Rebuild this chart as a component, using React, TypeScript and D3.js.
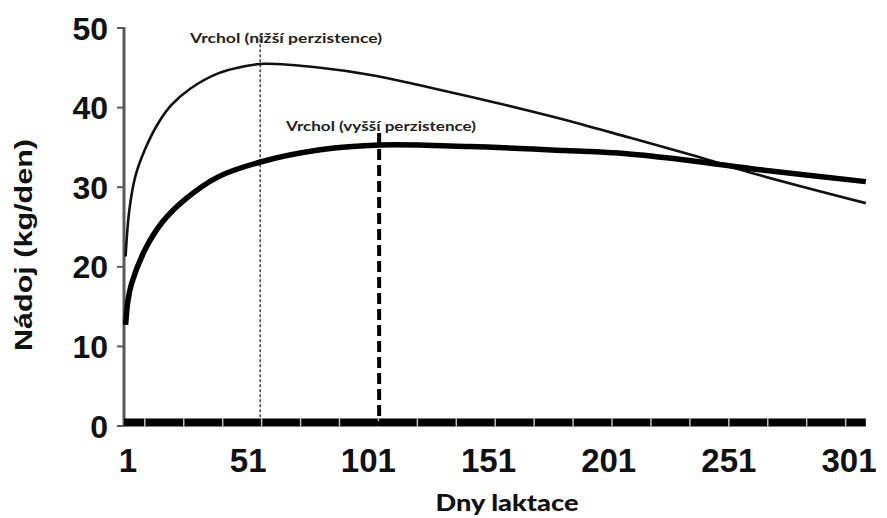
import React, { useRef, useEffect } from "react";
import * as d3 from "d3";

// lactation day (x) and milk yield kg/day (y)
const daysLow = [0, 1.5, 4, 8, 13.5, 19, 27, 38.5, 49.5, 58, 81, 102, 122.5, 143, 164, 185, 210, 236, 264, 308];
const milkLow = [21.3, 27.0, 31.3, 34.7, 38.0, 40.3, 42.4, 44.3, 45.2, 45.5, 45.0, 44.1, 42.8, 41.4, 39.9, 38.3, 36.2, 34.0, 31.5, 28.0];

const daysHigh = [0, 1, 2.5, 8, 15, 24.5, 38.5, 56.5, 81, 106, 143, 183, 208.5, 236, 264, 308];
const milkHigh = [12.7, 15.8, 17.9, 22.1, 25.5, 28.4, 31.3, 33.2, 34.7, 35.3, 35.1, 34.6, 34.2, 33.3, 32.2, 30.7];

const xTicks = [1, 51, 101, 151, 201, 251, 301];
const yTicks = [0, 10, 20, 30, 40, 50];

const peakLow = { day: 56, top: 49.2, label: "Vrchol (nižší perzistence)" };
const peakHigh = { day: 105.5, top: 36.8, label: "Vrchol (vyšší perzistence)" };

const W = 887;
const H = 518;

const App = () => {
  const svgRef = useRef<SVGSVGElement>(null);

  useEffect(() => {
    const svg = d3.select(svgRef.current);
    svg.selectAll("*").remove();

    const x = d3.scaleLinear().domain([1, 301]).range([128, 849]);
    const y = d3.scaleLinear().domain([0, 50]).range([426, 28]);
    const axisX = 124;
    const endX = x(308);

    // y axis
    svg.append("line")
      .attr("x1", axisX).attr("x2", axisX)
      .attr("y1", y(50) - 1).attr("y2", y(0))
      .attr("stroke", "#5a5a5a").attr("stroke-width", 3);
    svg.selectAll(".ytick")
      .data(yTicks)
      .join("line")
      .attr("class", "ytick")
      .attr("x1", axisX - 7).attr("x2", axisX)
      .attr("y1", d => y(d)).attr("y2", d => y(d))
      .attr("stroke", "#5a5a5a").attr("stroke-width", 2);
    svg.selectAll(".ylab")
      .data(yTicks)
      .join("text")
      .attr("class", "ylab")
      .attr("x", 108)
      .attr("y", d => y(d))
      .attr("dy", "0.36em")
      .attr("text-anchor", "end")
      .attr("font-family", "Liberation Sans, Arial, sans-serif")
      .attr("font-weight", "bold")
      .attr("font-size", 32)
      .attr("fill", "#111")
      .text(d => d);

    // thick baseline with small light ticks
    svg.append("line")
      .attr("x1", axisX).attr("x2", endX)
      .attr("y1", 422.5).attr("y2", 422.5)
      .attr("stroke", "#000").attr("stroke-width", 8);
    svg.selectAll(".xgap")
      .data(d3.range(8, 300, 16.2))
      .join("line")
      .attr("class", "xgap")
      .attr("x1", d => x(d)).attr("x2", d => x(d))
      .attr("y1", 418.5).attr("y2", 426.5)
      .attr("stroke", "#fff").attr("stroke-opacity", 0.75).attr("stroke-width", 1.5);

    svg.selectAll(".xlab")
      .data(xTicks)
      .join("text")
      .attr("class", "xlab")
      .attr("x", d => x(d))
      .attr("y", 472)
      .attr("text-anchor", "middle")
      .attr("font-family", "Liberation Sans, Arial, sans-serif")
      .attr("font-weight", "bold")
      .attr("font-size", 33)
      .attr("fill", "#111")
      .text(d => d);

    // peak markers
    svg.append("line")
      .attr("x1", x(peakLow.day)).attr("x2", x(peakLow.day))
      .attr("y1", y(peakLow.top)).attr("y2", y(0))
      .attr("stroke", "#222").attr("stroke-width", 1.3)
      .attr("stroke-dasharray", "3,2");
    svg.append("line")
      .attr("x1", x(peakHigh.day)).attr("x2", x(peakHigh.day))
      .attr("y1", y(peakHigh.top)).attr("y2", y(0))
      .attr("stroke", "#000").attr("stroke-width", 4)
      .attr("stroke-dasharray", "11,5");

    const line = d3.line<[number, number]>()
      .x(d => x(d[0]))
      .y(d => y(d[1]))
      .curve(d3.curveCatmullRom.alpha(0.5));

    svg.append("path")
      .attr("d", line(daysLow.map((d, i) => [d, milkLow[i]])))
      .attr("fill", "none").attr("stroke", "#111").attr("stroke-width", 2.6);
    svg.append("path")
      .attr("d", line(daysHigh.map((d, i) => [d, milkHigh[i]])))
      .attr("fill", "none").attr("stroke", "#000").attr("stroke-width", 5.5)
      .attr("stroke-linecap", "butt");

    // annotations
    svg.append("text")
      .attr("x", 190).attr("y", 43)
      .attr("font-family", "Lato, sans-serif").attr("font-weight", "bold")
      .attr("font-size", 14).attr("fill", "#222")
      .attr("textLength", 192).attr("lengthAdjust", "spacingAndGlyphs")
      .text(peakLow.label);
    svg.append("text")
      .attr("x", 286).attr("y", 131)
      .attr("font-family", "Lato, sans-serif").attr("font-weight", "bold")
      .attr("font-size", 14).attr("fill", "#222")
      .attr("textLength", 190).attr("lengthAdjust", "spacingAndGlyphs")
      .text(peakHigh.label);

    // axis titles
    svg.append("text")
      .attr("transform", "translate(32,245) rotate(-90)")
      .attr("text-anchor", "middle")
      .attr("font-family", "Liberation Sans, Arial, sans-serif")
      .attr("font-weight", "bold").attr("font-size", 24).attr("fill", "#111")
      .attr("textLength", 212).attr("lengthAdjust", "spacingAndGlyphs")
      .text("Nádoj (kg/den)");
    svg.append("text")
      .attr("x", 507).attr("y", 511)
      .attr("text-anchor", "middle")
      .attr("font-family", "Lato, sans-serif")
      .attr("font-weight", 900).attr("font-size", 22).attr("fill", "#111")
      .attr("textLength", 143).attr("lengthAdjust", "spacingAndGlyphs")
      .text("Dny laktace");
  }, []);

  return (
    <svg ref={svgRef} width={W} height={H}
      style={{ position: "absolute", left: 0, top: 0, background: "#fff" }} />
  );
};

export default App;
